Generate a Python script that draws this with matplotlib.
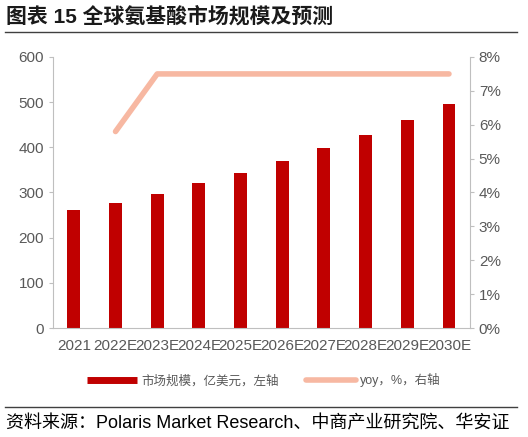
import matplotlib
matplotlib.use("Agg")
import matplotlib.pyplot as plt
from matplotlib.lines import Line2D

plt.rcParams['font.family'] = ['Liberation Sans', 'Noto Sans CJK SC', 'DejaVu Sans']

categories = ["2021", "2022E", "2023E", "2024E", "2025E", "2026E", "2027E", "2028E", "2029E", "2030E"]
market_size = [261, 276, 297, 320, 344, 370, 399, 428, 460, 495]
yoy = [None, 5.8, 7.5, 7.5, 7.5, 7.5, 7.5, 7.5, 7.5, 7.5]
left_ticks = [0, 100, 200, 300, 400, 500, 600]
right_ticks = [0, 1, 2, 3, 4, 5, 6, 7, 8]

bar_color = '#C00000'
line_color = '#F7B8A2'
gray = '#595959'
spine_gray = '#BFBFBF'

fig = plt.figure(figsize=(5.28, 4.37), dpi=100)
ax = fig.add_axes([0.1004, 0.2494, 0.7894, 0.6202])
ax2 = ax.twinx()

x = list(range(len(categories)))
ax.bar(x, market_size, width=0.31, color=bar_color, zorder=2)
ax.set_xlim(-0.5, len(categories) - 0.5)
ax.set_ylim(0, 600)
ax.set_yticks(left_ticks)
ax.set_xticks(x)
ax.set_xticklabels(categories)

yx = [i for i, v in enumerate(yoy) if v is not None]
yv = [v for v in yoy if v is not None]
ax2.plot(yx, yv, color=line_color, lw=4, solid_capstyle='round', zorder=3)
ax2.set_ylim(0, 8)
ax2.set_yticks(right_ticks)
ax2.set_yticklabels([f"{t}%" for t in right_ticks])

for a in (ax, ax2):
    a.spines['top'].set_visible(False)
    for s in ('left', 'right', 'bottom'):
        a.spines[s].set_color(spine_gray)
    a.tick_params(axis='both', colors=gray, labelsize=11, length=3, width=0.8, labelcolor=gray)
    a.tick_params(axis='both', color=spine_gray)
ax.tick_params(axis='x', length=0, pad=8)
ax.spines['right'].set_visible(False)
ax2.spines['left'].set_visible(False)
ax2.spines['bottom'].set_visible(False)

# legend
handles = [Line2D([0], [0], color=bar_color, lw=5, solid_capstyle='butt'),
           Line2D([0], [0], color=line_color, lw=4, solid_capstyle='round')]
labels = ["市场规模，亿美元，左轴", "yoy，%，右轴"]
fig.legend(handles, labels, loc='center', bbox_to_anchor=(0.5, 0.13), ncol=2, frameon=False,
           prop={'family': ['Liberation Sans', 'Noto Sans CJK SC', 'DejaVu Sans'], 'size': 9},
           labelcolor=gray, handlelength=4.0, columnspacing=2.2, handletextpad=0.3)

# title and footer
fig.text(0.012, 0.962, "图表 15 全球氨基酸市场规模及预测", fontsize=15, fontweight='bold',
         family=['Liberation Sans', 'Noto Sans CJK SC', 'DejaVu Sans'], va='center', ha='left',
         color='#1a1a1a')
fig.add_artist(Line2D([0.01, 0.98], [0.927, 0.927], color='#404040', lw=1, transform=fig.transFigure))
fig.add_artist(Line2D([0.01, 0.98], [0.0686, 0.0686], color='#404040', lw=1, transform=fig.transFigure))
fig.text(0.012, 0.030, "资料来源：Polaris Market Research、中商产业研究院、华安证", fontsize=13,
         family=['Liberation Sans', 'Noto Sans CJK SC', 'DejaVu Sans'], va='center', ha='left',
         color='#000000')

fig.savefig("out.png", dpi=100)
